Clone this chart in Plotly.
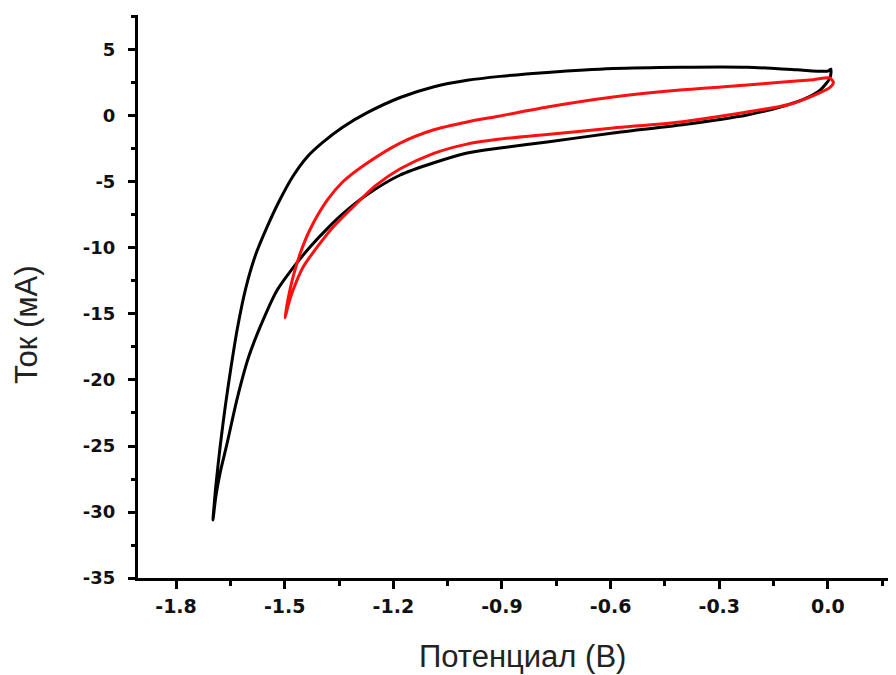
import plotly.graph_objects as go

# Black CV loop (scan to -1.7 V): forward (lower) branch then return (upper) branch
black_potential = [0.008, 0.006, -0.02, -0.06, -0.131, -0.223, -0.408, -0.593, -0.775, -0.905,
                   -0.996, -1.090, -1.181, -1.272, -1.339, -1.383, -1.430, -1.477, -1.521,
                   -1.568, -1.600, -1.632, -1.659, -1.678, -1.690, -1.698,
                   -1.690, -1.678, -1.664, -1.648, -1.630, -1.607, -1.580, -1.550, -1.516,
                   -1.478, -1.438, -1.395, -1.340, -1.272, -1.181, -1.090, -0.996, -0.905,
                   -0.775, -0.593, -0.408, -0.223, -0.085, 0.0, 0.008]
black_current = [3.55, 2.9, 2.0, 1.35, 0.68, 0.08, -0.68, -1.29, -1.97, -2.42,
                  -2.80, -3.56, -4.47, -5.95, -7.4, -8.55, -9.92, -11.5, -13.2,
                  -16.0, -18.3, -21.5, -24.8, -27.0, -28.8, -30.6,
                  -28.0, -25.0, -22.0, -19.0, -16.0, -13.0, -10.5, -8.5, -6.5,
                  -4.6, -3.1, -2.0, -0.85, 0.25, 1.4, 2.2, 2.7, 3.0,
                  3.3, 3.6, 3.7, 3.7, 3.5, 3.4, 3.55]

# Red CV loop (scan to -1.5 V)
red_potential = [0.015, 0.005, -0.04, -0.11, -0.223, -0.408, -0.593, -0.775, -0.905, -1.000,
                 -1.090, -1.181, -1.250, -1.300, -1.366, -1.410, -1.449, -1.477, -1.490, -1.499,
                 -1.491, -1.477, -1.457, -1.430, -1.383, -1.340, -1.272, -1.181, -1.090,
                 -0.996, -0.905, -0.775, -0.593, -0.408, -0.223, -0.131, -0.04, 0.005, 0.015]
red_current = [2.55, 2.15, 1.55, 0.85, 0.30, -0.45, -0.91, -1.40, -1.75, -2.15,
               -2.85, -4.0, -5.3, -6.59, -8.41, -9.92, -11.44, -13.2, -14.3, -15.3,
               -13.9, -12.2, -10.4, -8.6, -6.4, -5.0, -3.56, -2.05, -1.06,
               -0.45, 0.0, 0.68, 1.44, 1.97, 2.35, 2.55, 2.75, 2.88, 2.55]

x_ticks = [-1.8, -1.5, -1.2, -0.9, -0.6, -0.3, 0.0]
x_ticklabels = ["-1.8", "-1.5", "-1.2", "-0.9", "-0.6", "-0.3", "0.0"]
y_ticks = [5, 0, -5, -10, -15, -20, -25, -30, -35]
y_ticklabels = ["5", "0", "-5", "-10", "-15", "-20", "-25", "-30", "-35"]

x_title = "Потенциал (В)"
y_title = "Ток (мА)"

fig = go.Figure()
fig.add_trace(go.Scatter(x=black_potential, y=black_current, mode="lines",
                         line=dict(color="black", width=3, shape="spline", smoothing=0.7),
                         showlegend=False))
fig.add_trace(go.Scatter(x=red_potential, y=red_current, mode="lines",
                         line=dict(color="#ff1010", width=3, shape="spline", smoothing=0.7),
                         showlegend=False))

label_font = dict(family="DejaVu Sans, sans-serif", color="#111111", weight="bold")
title_font = dict(family="Liberation Sans, Arial, sans-serif", size=31, color="#222222")

fig.update_layout(
    width=896, height=675,
    margin=dict(l=130, r=8, t=7, b=105),
    paper_bgcolor="white", plot_bgcolor="white",
    xaxis=dict(
        range=[-1.905, 0.188], automargin=False,
        tickmode="array", tickvals=x_ticks, ticktext=x_ticklabels,
        ticks="outside", ticklen=8, tickwidth=2.5, tickcolor="black",
        minor=dict(dtick=0.15, tick0=0, ticks="outside", ticklen=5, tickwidth=2.5, tickcolor="black"),
        showline=True, linecolor="black", linewidth=3,
        showgrid=False, zeroline=False,
        tickfont=dict(size=19, **label_font), ticklabelstandoff=1,
    ),
    yaxis=dict(
        range=[-35, 7.65], automargin=False,
        tickmode="array", tickvals=y_ticks, ticktext=y_ticklabels,
        ticks="outside", ticklen=7, tickwidth=2.5, tickcolor="black",
        minor=dict(dtick=2.5, tick0=0, ticks="outside", ticklen=4, tickwidth=2.5, tickcolor="black"),
        showline=True, linecolor="black", linewidth=3,
        showgrid=False, zeroline=False,
        tickfont=dict(size=18, **label_font), ticklabelstandoff=9,
    ),
    annotations=[
        dict(text=x_title, xref="paper", yref="paper", x=0.5066, y=-0.1403,
             xanchor="center", yanchor="middle", showarrow=False, font=title_font),
        dict(text=y_title, xref="paper", yref="paper", x=-0.1464, y=0.4494,
             xanchor="center", yanchor="middle", showarrow=False, textangle=-90, font=title_font),
    ],
)

fig.write_html("out.html")
